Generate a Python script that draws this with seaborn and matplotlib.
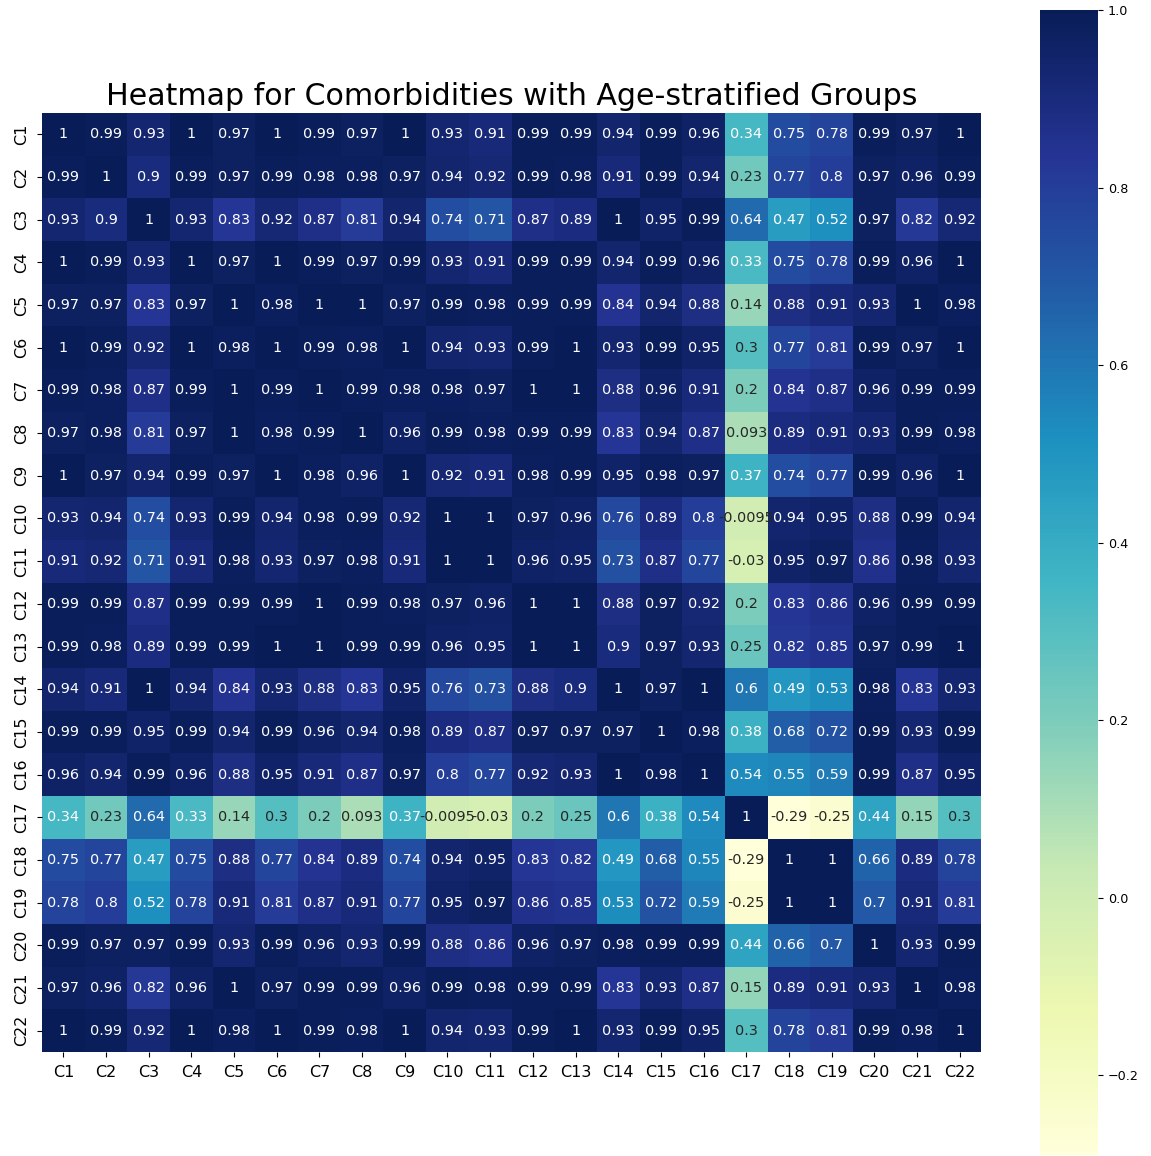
import numpy as np
import pandas as pd
import matplotlib
matplotlib.use("Agg")
import matplotlib.pyplot as plt
import seaborn as sns

labels = [f"C{i}" for i in range(1, 23)]

c1 = [1, 0.99, 0.93, 1, 0.97, 1, 0.99, 0.97, 1, 0.93, 0.91, 0.99, 0.99, 0.94, 0.99, 0.96, 0.34, 0.75, 0.78, 0.99, 0.97, 1]
c2 = [0.99, 1, 0.9, 0.99, 0.97, 0.99, 0.98, 0.98, 0.97, 0.94, 0.92, 0.99, 0.98, 0.91, 0.99, 0.94, 0.23, 0.77, 0.8, 0.97, 0.96, 0.99]
c3 = [0.93, 0.9, 1, 0.93, 0.83, 0.92, 0.87, 0.81, 0.94, 0.74, 0.71, 0.87, 0.89, 1, 0.95, 0.99, 0.64, 0.47, 0.52, 0.97, 0.82, 0.92]
c4 = [1, 0.99, 0.93, 1, 0.97, 1, 0.99, 0.97, 0.99, 0.93, 0.91, 0.99, 0.99, 0.94, 0.99, 0.96, 0.33, 0.75, 0.78, 0.99, 0.96, 1]
c5 = [0.97, 0.97, 0.83, 0.97, 1, 0.98, 1, 1, 0.97, 0.99, 0.98, 0.99, 0.99, 0.84, 0.94, 0.88, 0.14, 0.88, 0.91, 0.93, 1, 0.98]
c6 = [1, 0.99, 0.92, 1, 0.98, 1, 0.99, 0.98, 1, 0.94, 0.93, 0.99, 1, 0.93, 0.99, 0.95, 0.3, 0.77, 0.81, 0.99, 0.97, 1]
c7 = [0.99, 0.98, 0.87, 0.99, 1, 0.99, 1, 0.99, 0.98, 0.98, 0.97, 1, 1, 0.88, 0.96, 0.91, 0.2, 0.84, 0.87, 0.96, 0.99, 0.99]
c8 = [0.97, 0.98, 0.81, 0.97, 1, 0.98, 0.99, 1, 0.96, 0.99, 0.98, 0.99, 0.99, 0.83, 0.94, 0.87, 0.093, 0.89, 0.91, 0.93, 0.99, 0.98]
c9 = [1, 0.97, 0.94, 0.99, 0.97, 1, 0.98, 0.96, 1, 0.92, 0.91, 0.98, 0.99, 0.95, 0.98, 0.97, 0.37, 0.74, 0.77, 0.99, 0.96, 1]
c10 = [0.93, 0.94, 0.74, 0.93, 0.99, 0.94, 0.98, 0.99, 0.92, 1, 1, 0.97, 0.96, 0.76, 0.89, 0.8, -0.0095, 0.94, 0.95, 0.88, 0.99, 0.94]
c11 = [0.91, 0.92, 0.71, 0.91, 0.98, 0.93, 0.97, 0.98, 0.91, 1, 1, 0.96, 0.95, 0.73, 0.87, 0.77, -0.03, 0.95, 0.97, 0.86, 0.98, 0.93]
c12 = [0.99, 0.99, 0.87, 0.99, 0.99, 0.99, 1, 0.99, 0.98, 0.97, 0.96, 1, 1, 0.88, 0.97, 0.92, 0.2, 0.83, 0.86, 0.96, 0.99, 0.99]
c13 = [0.99, 0.98, 0.89, 0.99, 0.99, 1, 1, 0.99, 0.99, 0.96, 0.95, 1, 1, 0.9, 0.97, 0.93, 0.25, 0.82, 0.85, 0.97, 0.99, 1]
c14 = [0.94, 0.91, 1, 0.94, 0.84, 0.93, 0.88, 0.83, 0.95, 0.76, 0.73, 0.88, 0.9, 1, 0.97, 1, 0.6, 0.49, 0.53, 0.98, 0.83, 0.93]
c15 = [0.99, 0.99, 0.95, 0.99, 0.94, 0.99, 0.96, 0.94, 0.98, 0.89, 0.87, 0.97, 0.97, 0.97, 1, 0.98, 0.38, 0.68, 0.72, 0.99, 0.93, 0.99]
c16 = [0.96, 0.94, 0.99, 0.96, 0.88, 0.95, 0.91, 0.87, 0.97, 0.8, 0.77, 0.92, 0.93, 1, 0.98, 1, 0.54, 0.55, 0.59, 0.99, 0.87, 0.95]
c17 = [0.34, 0.23, 0.64, 0.33, 0.14, 0.3, 0.2, 0.093, 0.37, -0.0095, -0.03, 0.2, 0.25, 0.6, 0.38, 0.54, 1, -0.29, -0.25, 0.44, 0.15, 0.3]
c18 = [0.75, 0.77, 0.47, 0.75, 0.88, 0.77, 0.84, 0.89, 0.74, 0.94, 0.95, 0.83, 0.82, 0.49, 0.68, 0.55, -0.29, 1, 1, 0.66, 0.89, 0.78]
c19 = [0.78, 0.8, 0.52, 0.78, 0.91, 0.81, 0.87, 0.91, 0.77, 0.95, 0.97, 0.86, 0.85, 0.53, 0.72, 0.59, -0.25, 1, 1, 0.7, 0.91, 0.81]
c20 = [0.99, 0.97, 0.97, 0.99, 0.93, 0.99, 0.96, 0.93, 0.99, 0.88, 0.86, 0.96, 0.97, 0.98, 0.99, 0.99, 0.44, 0.66, 0.7, 1, 0.93, 0.99]
c21 = [0.97, 0.96, 0.82, 0.96, 1, 0.97, 0.99, 0.99, 0.96, 0.99, 0.98, 0.99, 0.99, 0.83, 0.93, 0.87, 0.15, 0.89, 0.91, 0.93, 1, 0.98]
c22 = [1, 0.99, 0.92, 1, 0.98, 1, 0.99, 0.98, 1, 0.94, 0.93, 0.99, 1, 0.93, 0.99, 0.95, 0.3, 0.78, 0.81, 0.99, 0.98, 1]

rows = [c1, c2, c3, c4, c5, c6, c7, c8, c9, c10, c11, c12,
        c13, c14, c15, c16, c17, c18, c19, c20, c21, c22]
corr = pd.DataFrame(rows, index=labels, columns=labels)

W, H = 1151, 1156
fig = plt.figure(figsize=(W / 100, H / 100), dpi=100)
ax = fig.add_axes([42 / W, (H - 1052) / H, 939 / W, 939 / H])
cax = fig.add_axes([1040 / W, (H - 1155) / H, 58 / W, 1145 / H])

sns.heatmap(corr, ax=ax, cbar_ax=cax, cmap="YlGnBu", annot=True,
            annot_kws={"fontsize": 10.4}, square=False)

ax.set_title("Heatmap for Comorbidities with Age-stratified Groups",
             fontsize=21.6, pad=6)
ax.tick_params(axis="both", labelsize=11.5, pad=5.6)
plt.setp(ax.get_yticklabels(), rotation=90, va="center")
plt.setp(ax.get_xticklabels(), rotation=0)
cax.tick_params(labelsize=9.2)

fig.savefig("out.png", dpi=100)
